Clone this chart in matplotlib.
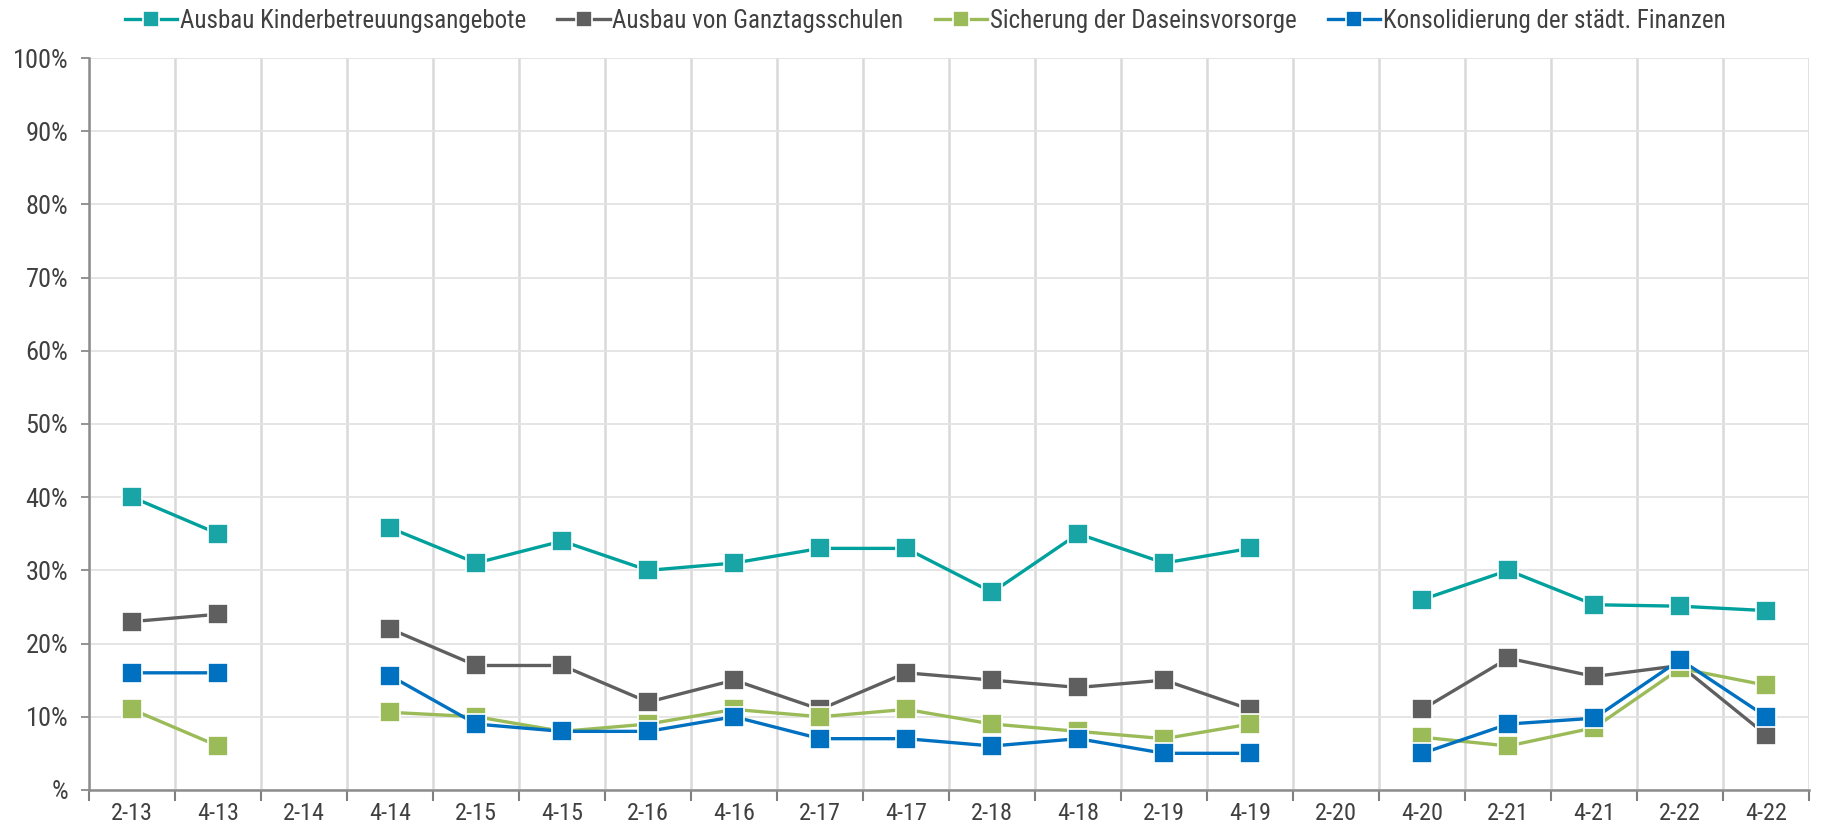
import numpy as np
import matplotlib.pyplot as plt
from matplotlib.ticker import FixedLocator

plt.rcParams['font.family'] = ['Roboto Condensed', 'DejaVu Sans']

nan = np.nan
quarters = ["2-13", "4-13", "2-14", "4-14", "2-15", "4-15", "2-16", "4-16", "2-17", "4-17",
            "2-18", "4-18", "2-19", "4-19", "2-20", "4-20", "2-21", "4-21", "2-22", "4-22"]

kinderbetreuung = [40, 35, nan, 35.8, 31, 34, 30, 31, 33, 33, 27, 35, 31, 33, nan, 26, 30, 25.3, 25.1, 24.5]
ganztagsschulen = [23, 24, nan, 22, 17, 17, 12, 15, 11, 16, 15, 14, 15, 11, nan, 11, 18, 15.5, 17, 7.5]
daseinsvorsorge = [11, 6, nan, 10.6, 10, 8, 9, 11, 10, 11, 9, 8, 7, 9, nan, 7.2, 6, 8.5, 16.6, 14.3]
finanzen = [16, 16, nan, 15.6, 9, 8, 8, 10, 7, 7, 6, 7, 5, 5, nan, 5, 9, 9.8, 17.8, 10]

series = [
    ("Ausbau Kinderbetreuungsangebote", kinderbetreuung, "#00A19D", "#19A5A6"),
    ("Ausbau von Ganztagsschulen", ganztagsschulen, "#5F5F5F", "#5F5F5F"),
    ("Sicherung der Daseinsvorsorge", daseinsvorsorge, "#9BBB59", "#9BBB59"),
    ("Konsolidierung der städt. Finanzen", finanzen, "#0070C0", "#0070C0"),
]

fig = plt.figure(figsize=(18.32, 8.35), dpi=100)
ax = fig.add_axes([0.0486, 0.054, 0.939, 0.8765])

x = np.arange(len(quarters))
for label, vals, lc, mc in series:
    ax.plot(x, np.array(vals) / 100, color=lc, lw=2.4, marker="s", markersize=14,
            markerfacecolor=mc, markeredgecolor="white", markeredgewidth=1.2, label=label)

ax.set_xlim(-0.5, len(quarters) - 0.5)
ax.set_ylim(0, 1)

# category labels centred, ticks/grid on the boundaries
ax.set_xticks(x)
ax.set_xticklabels(quarters)
ax.xaxis.set_minor_locator(FixedLocator(np.arange(-0.5, len(quarters), 1)))
ax.tick_params(axis="x", which="major", length=0, labelsize=17.5, labelcolor="#404040", pad=9)
ax.tick_params(axis="x", which="minor", length=8, width=1.5, color="#808080")
ax.xaxis.grid(True, which="minor", color="#D9D9D9", lw=1.8)

yt = np.arange(0, 1.01, 0.1)
ax.set_yticks(yt)
ax.set_yticklabels(["%"] + [f"{int(round(v * 100))}%" for v in yt[1:]])
ax.tick_params(axis="y", length=6, width=1.2, color="#808080", labelsize=19, labelcolor="#404040", pad=9)
ax.yaxis.grid(True, color="#E3E3E3", lw=1.3)
ax.set_axisbelow(True)

for s in ["top", "right"]:
    ax.spines[s].set_visible(False)
for s in ["left", "bottom"]:
    ax.spines[s].set_color("#8C8C8C")
    ax.spines[s].set_linewidth(1.8)

fig.legend(loc="upper center", bbox_to_anchor=(0.505, 1.016), ncol=4, frameon=False,
           fontsize=18, handlelength=2.1, handletextpad=0.1, columnspacing=1.25,
           labelcolor="#404040", markerscale=0.8)

fig.savefig("out.png", dpi=100)
